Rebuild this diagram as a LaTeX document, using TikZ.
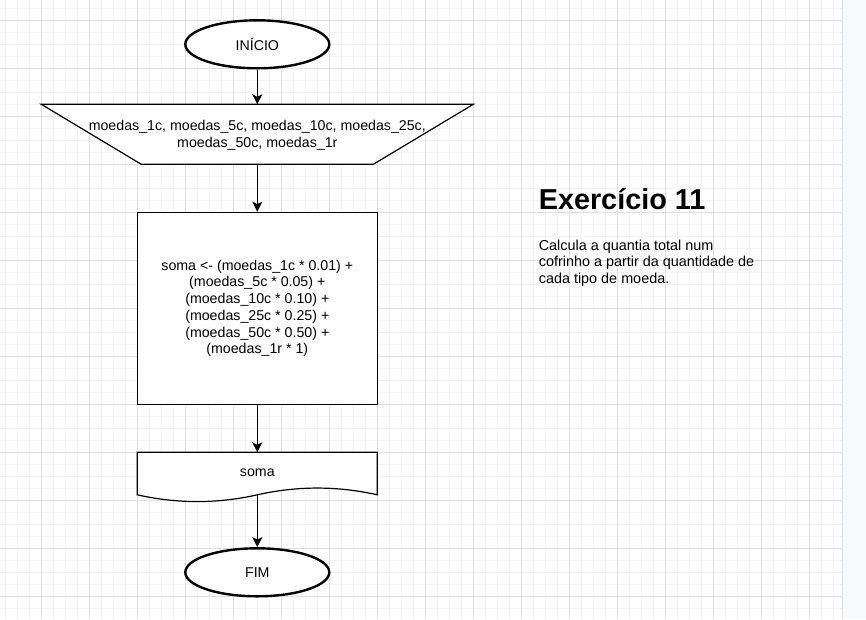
\documentclass[tikz,border=0pt]{standalone}
\usepackage{fontspec}
\setmainfont{Liberation Sans}
\usetikzlibrary{shapes.geometric,arrows.meta,calc}
\definecolor{gminor}{HTML}{F3F3F3}
\definecolor{gmajor}{HTML}{E0E0E0}
\definecolor{panel}{HTML}{F8F9FA}
\definecolor{panelborder}{HTML}{DADCE0}
\begin{document}
\begin{tikzpicture}[x=1pt,y=-1pt,
  minorgrid/.style={draw=gminor,line width=1pt},
  majorgrid/.style={draw=gmajor,line width=1pt},
  flowfont/.style={font=\fontsize{14.2}{16.7}\selectfont},
  term/.style={ellipse,draw,fill=white,line width=2.4pt,minimum width=144pt,minimum height=48pt,inner sep=0pt,flowfont},
  txt/.style={flowfont,align=center,inner sep=0pt},
  frame/.style={inner sep=0pt,outer sep=0pt},
  box/.style={draw,fill=white,line width=1.2pt},
  flow/.style={line width=1.2pt,-{Stealth[length=10pt,width=10pt,inset=2.5pt]}}
]
\useasboundingbox (0,0) rectangle (866,619);
\fill[white] (0,0) rectangle (866,619);
% grid
\foreach \i in {0,...,69} \draw[minorgrid] ({5.3+12*\i},0) -- ++(0,619);
\foreach \j in {0,...,50} \draw[minorgrid] (0,{8.3+12*\j}) -- ++(842,0);
\foreach \i in {0,...,16} \draw[majorgrid] ({41.3+48*\i},0) -- ++(0,619);
\foreach \j in {0,...,12} \draw[majorgrid] (0,{20.3+48*\j}) -- ++(842,0);
% right panel
\fill[panel] (842,0) rectangle (866,619);
\draw[panelborder,line width=1.5pt] (842.5,0) -- (842.5,619);

% start
\node[term] (start) at (257.3,44.3) {INÍCIO};

% input (trapezoid)
\node[frame,minimum width=432pt,minimum height=60pt] (in) at (257.3,134.3) {};
\draw[box,line join=miter] (in.north west) -- (in.north east) -- ($(in.south east)+(-100,0)$) -- ($(in.south west)+(100,0)$) -- cycle;
\node[txt] (intext) at ($(in.center)+(0,1)$) {moedas\_1c, moedas\_5c, moedas\_10c, moedas\_25c,\\moedas\_50c, moedas\_1r};

% process
\node[box,rectangle,minimum width=240pt,minimum height=192pt,inner sep=0pt,txt] (proc) at (257.3,308.3)
  {soma <- (moedas\_1c * 0.01) +\\(moedas\_5c * 0.05) +\\(moedas\_10c * 0.10) +\\(moedas\_25c * 0.25) +\\(moedas\_50c * 0.50) +\\(moedas\_1r * 1)};

% output (document)
\node[frame,minimum width=240pt,minimum height=50pt] (doc) at (257.3,477.3) {};
\draw[box] (doc.north west) -- (doc.north east) -- ($(doc.north east)+(0,42.5)$)
  .. controls ($(doc.north east)+(-40,33.5)$) and ($(doc.north)+(40,33.5)$) .. ($(doc.north)+(0,42.5)$)
  .. controls ($(doc.north)+(-40,51.5)$) and ($(doc.north west)+(40,51.5)$) .. ($(doc.north west)+(0,42.5)$) -- cycle;
\node[txt] (doctext) at (257.3,472.3) {soma};
\coordinate (docb) at ($(doc.north)+(0,42.5)$);

% end
\node[term] (end) at (257.3,572.3) {FIM};

% connectors
\draw[flow] (start.south) -- (in.north);
\draw[flow] (in.south) -- (proc.north);
\draw[flow] (proc.south) -- (doc.north);
\draw[flow] (docb) -- (end.north);

% description
\node[anchor=base west,inner sep=0pt,font=\bfseries\fontsize{28.8}{34}\selectfont] (title) at (538.6,209.8) {Exercício 11};
\node[anchor=base west,inner sep=0pt,font=\fontsize{14.4}{16.7}\selectfont] (desc) at (538.6,250)
  {\parbox[t]{280pt}{\raggedright Calcula a quantia total num\\cofrinho a partir da quantidade de\\cada tipo de moeda.}};
\end{tikzpicture}
\end{document}
